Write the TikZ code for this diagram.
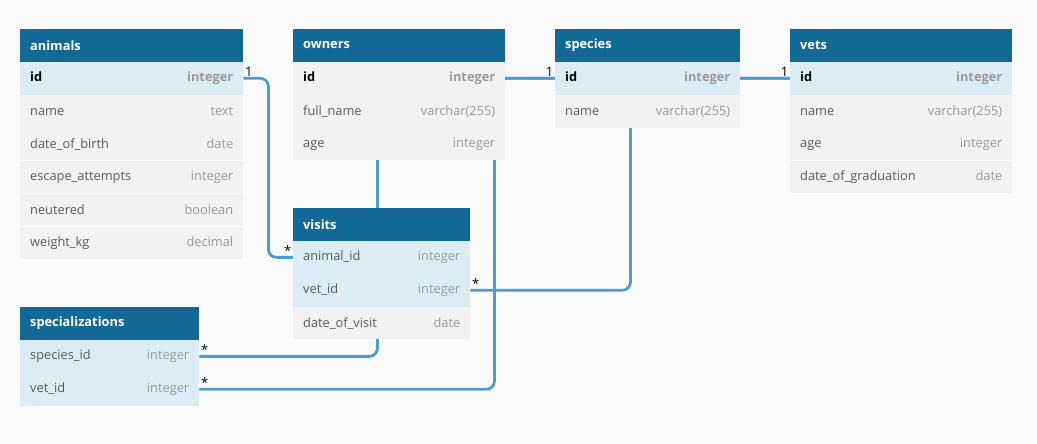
\documentclass[tikz,border=0pt]{standalone}
\usepackage{fontspec}
\setmainfont{Open Sans}
\usetikzlibrary{backgrounds}
\definecolor{hdrblue}{HTML}{136996}
\definecolor{keyrow}{HTML}{DCECF4}
\definecolor{plainrow}{HTML}{F2F2F2}
\definecolor{fldgrey}{HTML}{5A5A5A}
\definecolor{typegrey}{HTML}{9A9A9A}
\definecolor{linkblue}{HTML}{4A9DD0}
\definecolor{pagebg}{HTML}{FAFAFA}
\tikzset{
  cell/.style={anchor=north west, minimum height=32.5pt, inner xsep=10pt, inner ysep=0pt,
    text width=#1, align=left, font=\fontsize{12.8}{14}\selectfont, text=fldgrey},
  hdr/.style={cell=#1, fill=hdrblue, text=white, font=\fontsize{12.8}{14}\selectfont\bfseries},
  key/.style={cell=#1, fill=keyrow},
  fld/.style={cell=#1, fill=plainrow},
  link/.style={linkblue, line width=2.8pt, rounded corners=8pt},
  mult/.style={font=\fontsize{13}{14}\selectfont, inner sep=1.5pt},
}
\newcommand\ty[1]{\hfill\textcolor{typegrey}{#1}}
\newcommand\pk[2]{\textcolor{black}{\bfseries #1}\hfill\textcolor{typegrey}{\bfseries #2}}
\begin{document}
\begin{tikzpicture}[x=1pt, y=-1pt, line cap=round]
  \begin{pgfonlayer}{background}
    \fill[pagebg] (0,0) rectangle (1037,444);
  \end{pgfonlayer}
  % animals
  \node[hdr=203pt] (animals) at (20,29) {animals};
  \node[key=203pt] (animals-id) at (animals.south west) {\pk{id}{integer}};
  \node[fld=203pt] (animals-name) at (animals-id.south west) {name\ty{text}};
  \node[fld=203pt] (animals-dob) at (animals-name.south west) {date\_of\_birth\ty{date}};
  \node[fld=203pt] (animals-escape) at (animals-dob.south west) {escape\_attempts\ty{integer}};
  \node[fld=203pt] (animals-neutered) at (animals-escape.south west) {neutered\ty{boolean}};
  \node[fld=203pt] (animals-weight) at (animals-neutered.south west) {weight\_kg\ty{decimal}};
  % owners
  \node[hdr=192pt] (owners) at (293,29) {owners};
  \node[fld=192pt] (owners-id) at (owners.south west) {\pk{id}{integer}};
  \node[fld=192pt] (owners-name) at (owners-id.south west) {full\_name\ty{varchar(255)}};
  \node[fld=192pt] (owners-age) at (owners-name.south west) {age\ty{integer}};
  % species
  \node[hdr=165pt] (species) at (555,29) {species};
  \node[key=165pt] (species-id) at (species.south west) {\pk{id}{integer}};
  \node[fld=165pt] (species-name) at (species-id.south west) {name\ty{varchar(255)}};
  % vets
  \node[hdr=202pt] (vets) at (790,29) {vets};
  \node[key=202pt] (vets-id) at (vets.south west) {\pk{id}{integer}};
  \node[fld=202pt] (vets-name) at (vets-id.south west) {name\ty{varchar(255)}};
  \node[fld=202pt] (vets-age) at (vets-name.south west) {age\ty{integer}};
  \node[fld=202pt] (vets-grad) at (vets-age.south west) {date\_of\_graduation\ty{date}};
  % visits
  \node[hdr=157pt] (visits) at (293,208) {visits};
  \node[key=157pt] (visits-animal) at (visits.south west) {animal\_id\ty{integer}};
  \node[key=157pt] (visits-vet) at (visits-animal.south west) {vet\_id\ty{integer}};
  \node[fld=157pt] (visits-date) at (visits-vet.south west) {date\_of\_visit\ty{date}};
  % specializations
  \node[hdr=159pt] (spec) at (20,307) {specializations};
  \node[key=159pt] (spec-species) at (spec.south west) {species\_id\ty{integer}};
  \node[key=159pt] (spec-vet) at (spec-species.south west) {vet\_id\ty{integer}};
  % relations, under the tables
  \begin{pgfonlayer}{background}
    \draw[link] (animals-id.east) -- ++(25,0) |- (visits-animal.west);
    \draw[link] (spec-species.east) -- ++(178,0) |- (species-id.west);
    \draw[link] (visits-vet.east) -- ++(160,0) |- (vets-id.west);
    \draw[link] (spec-vet.east) -- ++(295,0) |- (vets-id.west);
  \end{pgfonlayer}
  \node[mult, above right] (m-animals) at (animals-id.east) {1};
  \node[mult, above left] (m-visits-animal) at (visits-animal.west) {*};
  \node[mult, above left] (m-species) at (species-id.west) {1};
  \node[mult, above right] (m-spec-species) at (spec-species.east) {*};
  \node[mult, above right] (m-visits-vet) at (visits-vet.east) {*};
  \node[mult, above left] (m-vets) at (vets-id.west) {1};
  \node[mult, above right] (m-spec-vet) at (spec-vet.east) {*};
\end{tikzpicture}
\end{document}
